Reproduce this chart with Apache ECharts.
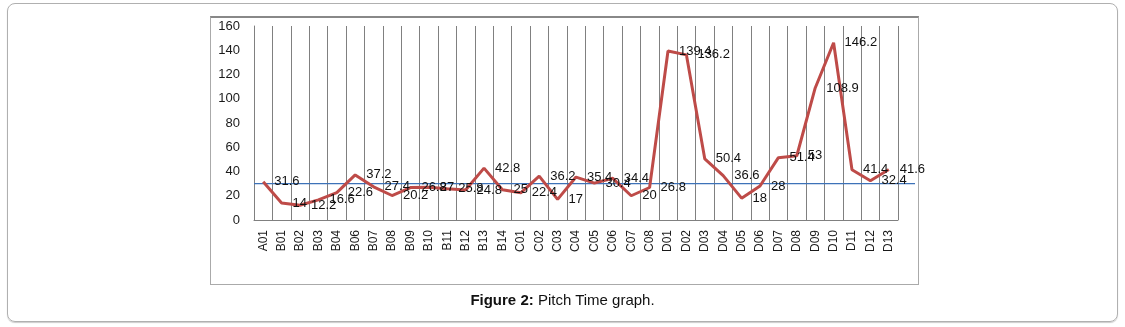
<!DOCTYPE html>
<html><head><meta charset="utf-8">
<script src="https://cdn.jsdelivr.net/npm/echarts@6/dist/echarts.min.js"></script>
<style>
html,body{margin:0;padding:0;width:1125px;height:327px;background:#fff;overflow:hidden;}
#outer{position:absolute;left:7px;top:3px;width:1109px;height:317px;border:1px solid #b0b0b0;border-radius:8px;box-shadow:0 1px 1px #ccc;}
#inner{position:absolute;left:210px;top:16px;width:707px;height:266px;border:1px solid #aaa;border-top:2px solid #888;}
#chart{position:absolute;left:0;top:0;width:1125px;height:327px;}
#cap{position:absolute;left:0;width:1125px;top:291px;text-align:center;font:15px 'Liberation Sans',Arial,sans-serif;color:#111;}
</style></head>
<body>
<div id="outer"></div>
<div id="inner"></div>
<div id="chart"></div>
<div id="cap"><b>Figure 2:</b> Pitch Time graph.</div>
<script>
var categories = ['A01','B01','B02','B03','B04','B06','B07','B08','B09','B10','B11','B12','B13','B14',
  'C01','C02','C03','C04','C05','C06','C07','C08',
  'D01','D02','D03','D04','D05','D06','D07','D08','D09','D10','D11','D12','D13'];
var pitchTime = [31.6,14,12.2,16.6,22.6,37.2,27.4,20.2,26.8,27,25.8,24.8,42.8,25,
  22.4,36.2,17,35.4,30.4,34.4,20,26.8,
  139.4,136.2,50.4,36.6,18,28,51.4,53,108.9,146.2,41.4,32.4,41.6];
var referenceLevel = 30;
var yTicks = {min:0, max:160, interval:20};

var chart = echarts.init(document.getElementById('chart'));
var font = "'Liberation Sans', Arial, sans-serif";
chart.setOption({
  animation:false,
  grid:[
    {left:254, right:227, top:26, bottom:107},
    {left:254, right:210, top:26, bottom:107}
  ],
  xAxis:[
    {type:'category', data:categories, gridIndex:0, boundaryGap:true,
     axisLine:{show:true, lineStyle:{color:'#808080', width:1}},
     axisTick:{show:false},
     splitLine:{show:true, lineStyle:{color:'#808080', width:1}},
     axisLabel:{rotate:90, margin:10, fontSize:12, color:'#1a1a1a', fontFamily:font, interval:0}},
    {type:'value', gridIndex:1, min:0, max:1, show:false}
  ],
  yAxis:[
    {type:'value', gridIndex:0, min:yTicks.min, max:yTicks.max, interval:yTicks.interval,
     axisLine:{show:true, lineStyle:{color:'#808080', width:1}},
     axisTick:{show:false},
     splitLine:{show:false},
     axisLabel:{margin:14, fontSize:13, color:'#1a1a1a', fontFamily:font}},
    {type:'value', gridIndex:1, min:yTicks.min, max:yTicks.max, show:false}
  ],
  series:[
    {type:'line', xAxisIndex:1, yAxisIndex:1, data:[[0,referenceLevel],[1,referenceLevel]],
     symbol:'none', silent:true, z:2,
     lineStyle:{color:'#3d72b8', width:1.2}},
    {type:'line', xAxisIndex:0, yAxisIndex:0, data:pitchTime, z:3,
     symbol:'circle', symbolSize:2, showSymbol:true,
     itemStyle:{color:'rgba(0,0,0,0)'},
     lineStyle:{color:'#be4b48', width:3},
     label:{show:true, position:'right', distance:10, fontSize:13, color:'#111', fontFamily:font}}
  ]
});
</script>
</body></html>
